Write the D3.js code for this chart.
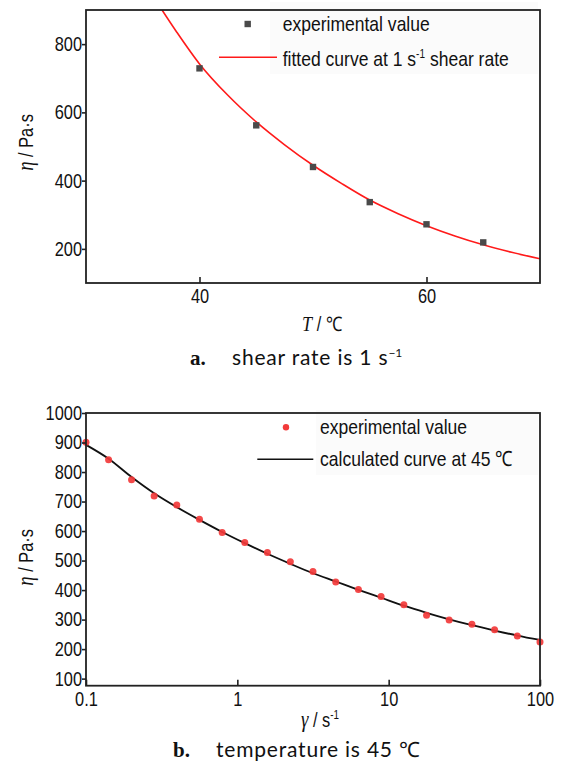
<!DOCTYPE html>
<html><head><meta charset="utf-8">
<script src="https://cdn.jsdelivr.net/npm/d3@7"></script>
<style>body{margin:0;background:#fff}</style>
</head><body>
<svg id="c" width="562" height="776" xmlns="http://www.w3.org/2000/svg"></svg>
<script>
// ---- Chart a: viscosity vs temperature at 1 s^-1
const tempPoints = [40, 45, 50, 55, 60, 65];
const tempViscosity = [729, 562, 440, 337, 272, 219];
const tempCurveT = [36.7, 38, 40, 42.5, 45, 47.5, 50, 52.5, 55, 57.5, 60, 62.5, 65, 67.5, 70];
const tempCurveV = [900, 835, 742, 650, 572, 505, 445, 392, 343, 303, 268, 238, 212, 190, 171];
const tempXTicks = [40, 60];
const tempYTicks = [200, 400, 600, 800];

// ---- Chart b: viscosity vs shear rate at 45 C
const shearRates = [0.1, 0.141, 0.2, 0.282, 0.398, 0.562, 0.794, 1.12, 1.58, 2.24, 3.16, 4.47, 6.31, 8.91, 12.6, 17.8, 25.1, 35.5, 50.1, 70.8, 100];
const shearViscosity = [901, 842, 774, 719, 688, 640, 595, 561, 527, 496, 463, 427, 402, 378, 350, 315, 299, 284, 266, 244, 224];
const shearCurve = [892, 845, 783, 728, 681, 638, 597, 559, 523, 489, 457, 429, 401, 374, 347, 323, 301, 281, 263, 246, 231];
const shearXTicks = [0.1, 1, 10, 100];
const shearYTicks = [100, 200, 300, 400, 500, 600, 700, 800, 900, 1000];

const SANS = "'Liberation Sans',Arial,sans-serif";
const SERIF = "'Liberation Serif','Times New Roman',serif";
const CAP = "Lato,'Noto Sans',sans-serif";
const SX = 0.82;   // horizontal condensing to mimic a narrow face
const svg = d3.select("#c");

function narrow(parent, x, y, size, sx) {
  return parent.append("text")
    .attr("transform", `translate(${x},${y}) scale(${sx || SX},1)`)
    .attr("font-family", SANS).attr("font-size", size).attr("fill", "#111");
}

function frameAxes(g, x, y, xTicks, yTicks, xFmt, w, h) {
  const yAx = d3.axisLeft(y).tickValues(yTicks).tickSize(4).tickPadding(0).tickFormat(d3.format("d"));
  const gy = g.append("g").call(yAx);
  const xAx = d3.axisBottom(x).tickValues(xTicks).tickSizeInner(-6).tickSizeOuter(0).tickPadding(6).tickFormat(xFmt);
  const gx = g.append("g").attr("transform", `translate(0,${h})`).call(xAx);
  [gx, gy].forEach(a => {
    a.select(".domain").remove();
    a.selectAll("line").attr("stroke", "#222").attr("stroke-width", 1.6);
    a.selectAll("text").attr("font-family", SANS).attr("font-size", 20).attr("fill", "#111")
      .attr("transform", `scale(${SX},1)`);
  });
  gy.selectAll("text").attr("x", -4 / SX);
  g.append("rect").attr("x", 0).attr("y", 0).attr("width", w).attr("height", h)
    .attr("fill", "none").attr("stroke", "#222").attr("stroke-width", 1.8);
}

// ================= Chart a =================
{
  const L = 86, T = 10, W = 454, H = 273;
  const g = svg.append("g").attr("transform", `translate(${L},${T})`);
  const x = d3.scaleLinear().domain([30, 70]).range([0, W]);
  const y = d3.scaleLinear().domain([100, 900]).range([H, 0]);

  g.append("defs").append("clipPath").attr("id", "clipA")
    .append("rect").attr("width", W).attr("height", H);

  g.append("rect").attr("x", 184).attr("y", -8).attr("width", 268).attr("height", 72).attr("fill", "#fbfbfb");

  const curve = tempCurveT.map((t, i) => [t, tempCurveV[i]]);
  g.append("path").datum(curve).attr("clip-path", "url(#clipA)")
    .attr("d", d3.line().x(d => x(d[0])).y(d => y(d[1])).curve(d3.curveMonotoneX))
    .attr("fill", "none").attr("stroke", "#ff1a1a").attr("stroke-width", 1.6);

  g.selectAll(".sq").data(tempPoints).enter().append("rect")
    .attr("x", (d) => x(d) - 3.2).attr("y", (d, i) => y(tempViscosity[i]) - 3.2)
    .attr("width", 6.4).attr("height", 6.4).attr("fill", "#4a4a4a");

  frameAxes(g, x, y, tempXTicks, tempYTicks, d3.format("d"), W, H);

  // legend
  g.append("rect").attr("x", 161.7 - 3.2).attr("y", 14 - 3.2).attr("width", 6.4).attr("height", 6.4).attr("fill", "#4a4a4a");
  g.append("line").attr("x1", 133).attr("x2", 191).attr("y1", 47.3).attr("y2", 47.3).attr("stroke", "#ff1a1a").attr("stroke-width", 1.6);
  narrow(g, 196.7, 21, 21, 0.835).text("experimental value");
  const t2 = narrow(g, 196.7, 56, 21, 0.835);
  t2.append("tspan").text("fitted curve at 1 s");
  t2.append("tspan").attr("dy", -8).attr("font-size", 12).text("-1");
  t2.append("tspan").attr("dy", 8).text(" shear rate");

  // axis titles
  const xt = narrow(g, 236, 321, 20).attr("text-anchor", "middle");
  xt.append("tspan").attr("font-family", SERIF).attr("font-style", "italic").attr("font-size", 22).text("T");
  xt.append("tspan").text(" / \u2103");

  const yt = g.append("text").attr("transform", `translate(${-53},${H / 2 - 4}) rotate(-90) scale(${SX},1)`)
    .attr("text-anchor", "middle").attr("font-family", SANS).attr("font-size", 20).attr("fill", "#111");
  yt.append("tspan").attr("font-family", SERIF).attr("font-style", "italic").attr("font-size", 23).text("\u03B7");
  yt.append("tspan").text(" / Pa\u00B7s");
}

// caption a
{
  const c = svg.append("text").attr("x", 190).attr("y", 365).attr("font-size", 21).attr("fill", "#111");
  c.append("tspan").attr("font-family", SERIF).attr("font-weight", "bold").text("a.");
  c.append("tspan").attr("x", 232).attr("font-family", CAP).attr("letter-spacing", 0.8).text("shear rate is 1 s");
  c.append("tspan").attr("dy", -8).attr("font-size", 12).attr("font-family", CAP).text("\u22121");
}

// ================= Chart b =================
{
  const L = 86, T = 413, W = 454, H = 272.7;
  const g = svg.append("g").attr("transform", `translate(${L},${T})`);
  const x = d3.scaleLog().domain([0.1, 100]).range([0, W]);
  const y = d3.scaleLinear().domain([76, 1000]).range([H, 0]);

  g.append("rect").attr("x", 230).attr("y", -3).attr("width", 222).attr("height", 65).attr("fill", "#fbfbfb");

  g.append("path").datum(shearRates.map((r, i) => [r, shearCurve[i]]))
    .attr("d", d3.line().x(d => x(d[0])).y(d => y(d[1])).curve(d3.curveMonotoneX))
    .attr("fill", "none").attr("stroke", "#111").attr("stroke-width", 1.8);

  g.selectAll(".dot").data(shearRates).enter().append("circle")
    .attr("cx", d => x(d)).attr("cy", (d, i) => y(shearViscosity[i])).attr("r", 3.5)
    .attr("fill", "#f23a3a").attr("fill-opacity", 0.92);

  frameAxes(g, x, y, shearXTicks, shearYTicks, d => String(d), W, H);

  // legend
  g.append("circle").attr("cx", 200).attr("cy", 14.3).attr("r", 3.2).attr("fill", "#f23a3a");
  g.append("line").attr("x1", 171.3).attr("x2", 227.3).attr("y1", 46.3).attr("y2", 46.3).attr("stroke", "#111").attr("stroke-width", 1.6);
  narrow(g, 234, 21, 21, 0.835).text("experimental value");
  narrow(g, 234, 53, 21, 0.835).text("calculated curve at 45 \u2103");

  const xt = narrow(g, 234, 313.7, 20).attr("text-anchor", "middle");
  xt.append("tspan").attr("font-family", SERIF).attr("font-style", "italic").attr("font-size", 23).text("\u03B3");
  xt.append("tspan").text(" / s");
  xt.append("tspan").attr("dy", -8).attr("font-size", 12).text("-1");

  const yt = g.append("text").attr("transform", `translate(${-53},${H / 2 + 8}) rotate(-90) scale(${SX},1)`)
    .attr("text-anchor", "middle").attr("font-family", SANS).attr("font-size", 20).attr("fill", "#111");
  yt.append("tspan").attr("font-family", SERIF).attr("font-style", "italic").attr("font-size", 23).text("\u03B7");
  yt.append("tspan").text(" / Pa\u00B7s");
}

// caption b
{
  const c = svg.append("text").attr("x", 173).attr("y", 757).attr("font-size", 21).attr("fill", "#111");
  c.append("tspan").attr("font-family", SERIF).attr("font-weight", "bold").text("b.");
  c.append("tspan").attr("x", 216).attr("font-family", CAP).attr("letter-spacing", 0.8).text("temperature is 45 \u2103");
}
</script>
</body></html>
